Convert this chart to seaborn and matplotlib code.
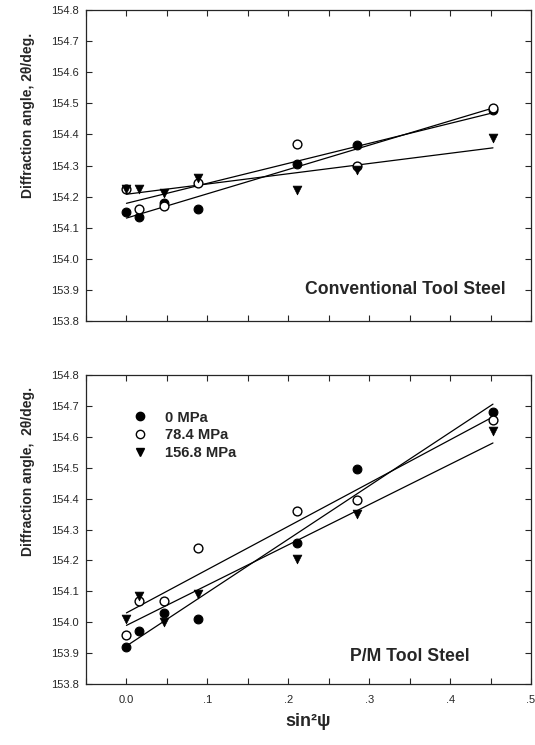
import matplotlib
matplotlib.use("Agg")
import matplotlib.pyplot as plt
from matplotlib.lines import Line2D
from matplotlib.ticker import MultipleLocator, FixedLocator
import seaborn as sns

# sin^2(psi) tilt positions
sin2psi = [0.0, 0.016, 0.046, 0.088, 0.211, 0.285, 0.453]

# Conventional tool steel, 2theta (deg)
conv_0 = [154.15, 154.135, 154.18, 154.16, 154.305, 154.365, 154.48]
conv_78 = [154.225, 154.16, 154.17, 154.245, 154.37, 154.30, 154.485]
conv_157 = [154.225, 154.225, 154.21, 154.26, 154.22, 154.285, 154.39]

# P/M tool steel, 2theta (deg)
pm_0 = [153.92, 153.97, 154.03, 154.01, 154.255, 154.495, 154.68]
pm_78 = [153.96, 154.07, 154.07, 154.24, 154.36, 154.395, 154.655]
pm_157 = [154.01, 154.085, 154.0, 154.09, 154.205, 154.35, 154.62]

series_labels = ["0 MPa", "78.4 MPa", "156.8 MPa"]
y_ticks = [153.8, 153.9, 154.0, 154.1, 154.2, 154.3, 154.4, 154.5, 154.6, 154.7, 154.8]
x_ticks = [0.0, 0.1, 0.2, 0.3, 0.4, 0.5]
x_tick_labels = ["0.0", ".1", ".2", ".3", ".4", ".5"]

sns.set_style("ticks")
plt.rcParams["font.family"] = ["Liberation Sans", "DejaVu Sans"]
plt.rcParams["axes.linewidth"] = 0.9

W, H = 535, 745
fig = plt.figure(figsize=(W / 100, H / 100), dpi=100)


def px_axes(left, top, right, bottom):
    return fig.add_axes([left / W, 1 - bottom / H, (right - left) / W, (bottom - top) / H])


ax_top = px_axes(86, 10, 531, 321)
ax_bot = px_axes(86, 375, 531, 684)

styles = [
    dict(marker="o", scatter_kws=dict(s=40, facecolors="black", edgecolors="black", linewidths=0.8)),
    dict(marker="o", scatter_kws=dict(s=40, facecolors="white", edgecolors="black", linewidths=1.0)),
    dict(marker="v", scatter_kws=dict(s=40, facecolors="black", edgecolors="black", linewidths=0.5)),
]


def draw_panel(ax, series, title, title_xy, ylabel, label_y, show_xlabels):
    for ys, st in zip(series, styles):
        sns.regplot(x=sin2psi, y=ys, ax=ax, ci=None, marker=st["marker"], color="black",
                    scatter_kws=dict(st["scatter_kws"], alpha=1, zorder=3),
                    line_kws=dict(color="black", linewidth=0.9, zorder=2))
    ax.set_xlim(-0.05, 0.5)
    ax.set_ylim(153.8, 154.8)
    ax.yaxis.set_major_locator(FixedLocator(y_ticks))
    ax.set_yticklabels([f"{v:.1f}" for v in y_ticks])
    ax.xaxis.set_major_locator(FixedLocator(x_ticks))
    ax.xaxis.set_minor_locator(MultipleLocator(0.05))
    if show_xlabels:
        ax.set_xticklabels(x_tick_labels)
    else:
        ax.set_xticklabels([])
    ax.tick_params(axis="both", which="both", direction="in", top=True, right=True,
                   length=4, width=0.8, labelsize=8)
    ax.tick_params(axis="x", which="major", pad=8)
    ax.tick_params(axis="y", which="major", pad=5)
    for sp in ax.spines.values():
        sp.set_visible(True)
        sp.set_linewidth(0.9)
    ax.set_ylabel(ylabel, fontsize=10, fontweight="bold")
    ax.yaxis.set_label_coords(-0.115, label_y)
    ax.set_xlabel("")
    ax.text(title_xy[0], title_xy[1], title, transform=ax.transAxes, ha="right", va="center",
            fontsize=12.7, fontweight="bold")


draw_panel(ax_top, [conv_0, conv_78, conv_157], "Conventional Tool Steel", (0.942, 0.10),
           "Diffraction angle, 2θ/deg.", 0.662, False)
draw_panel(ax_bot, [pm_0, pm_78, pm_157], "P/M Tool Steel", (0.863, 0.09),
           "Diffraction angle,  2θ/deg.", 0.688, True)

ax_bot.set_xlabel("sin²ψ", fontsize=13, fontweight="bold", labelpad=6)

handles = [
    Line2D([], [], linestyle="none", marker="o", markersize=6, markerfacecolor="black", markeredgecolor="black"),
    Line2D([], [], linestyle="none", marker="o", markersize=6, markerfacecolor="white", markeredgecolor="black"),
    Line2D([], [], linestyle="none", marker="v", markersize=6, markerfacecolor="black", markeredgecolor="black"),
]
leg = ax_bot.legend(handles, series_labels, loc="upper left", bbox_to_anchor=(0.105, 0.885),
                    frameon=False, borderpad=0, borderaxespad=0, handlelength=1.0,
                    handletextpad=1.2, labelspacing=0.26, prop=dict(weight="bold", size=10.6))

fig.savefig("out.png", dpi=100)
